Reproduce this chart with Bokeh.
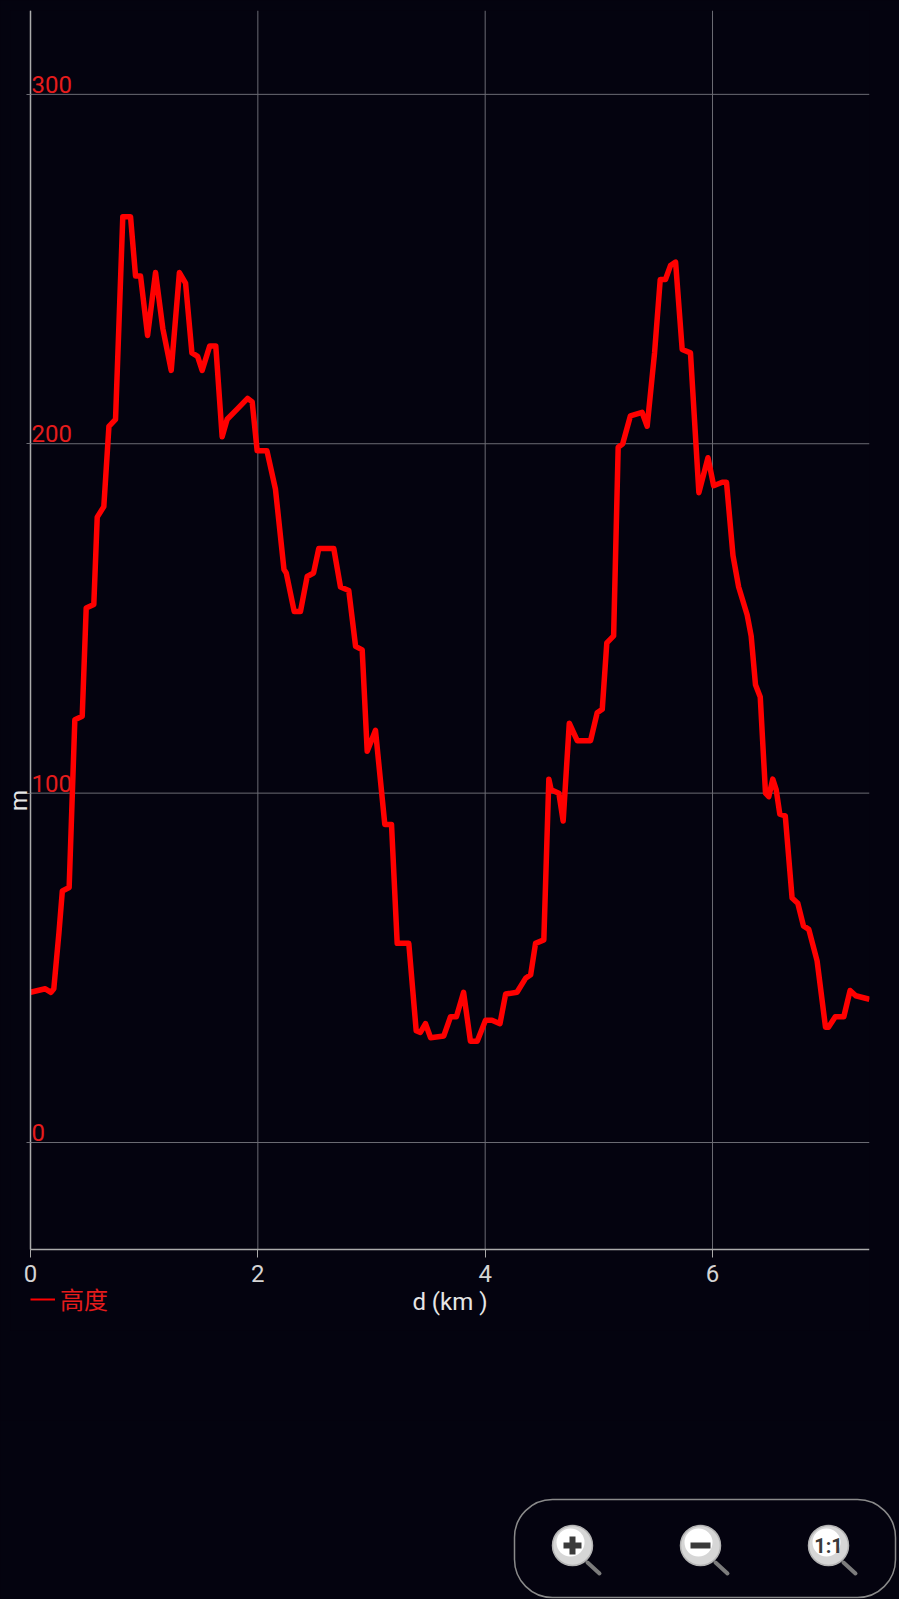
import math
from bokeh.plotting import figure
from bokeh.models import Range1d, FixedTicker, Legend, LegendItem, Label, ColumnDataSource
from bokeh.layouts import column
from bokeh.embed import file_html
from bokeh.resources import INLINE
from bokeh.core.properties import value

# ---------------- data ----------------
distance_km = [0, 0.13, 0.18, 0.205, 0.25, 0.28, 0.34, 0.39, 0.455, 0.49, 0.557, 0.587, 0.645,
               0.69, 0.748, 0.812, 0.88, 0.924, 0.968, 1.03, 1.10, 1.164, 1.238, 1.31, 1.364,
               1.42, 1.47, 1.51, 1.577, 1.63, 1.686, 1.73, 1.82, 1.91, 1.95, 1.994, 2.08,
               2.155, 2.23, 2.25, 2.32, 2.375, 2.434, 2.49, 2.536, 2.668, 2.727, 2.80, 2.86,
               2.918, 2.962, 3.035, 3.117, 3.176, 3.226, 3.328, 3.393, 3.43, 3.475, 3.52,
               3.636, 3.695, 3.747, 3.81, 3.87, 3.93, 4.003, 4.06, 4.13, 4.18, 4.28, 4.355,
               4.40, 4.443, 4.516, 4.56, 4.58, 4.648, 4.686, 4.74, 4.81, 4.927, 4.985, 5.03,
               5.07, 5.13, 5.17, 5.21, 5.278, 5.38, 5.425, 5.49, 5.54, 5.586, 5.63, 5.675,
               5.733, 5.806, 5.88, 5.96, 6.01, 6.085, 6.123, 6.18, 6.23, 6.305, 6.34, 6.378,
               6.42, 6.466, 6.495, 6.53, 6.56, 6.592, 6.64, 6.70, 6.75, 6.80, 6.847, 6.92,
               6.994, 7.02, 7.08, 7.155, 7.21, 7.26, 7.38]
elevation_m = [43, 44, 43, 44, 60, 72, 73, 121, 122, 153, 154, 179, 182,
               205, 207, 265, 265, 248, 248, 231, 249, 233, 221, 249, 246,
               226, 225, 221, 228, 228, 202, 207, 210, 213, 212, 198, 198,
               187, 164, 163, 152, 152, 162, 163, 170, 170, 159, 158, 142,
               141, 112, 118, 91, 91, 57, 57, 32, 31.5, 34, 30,
               30.5, 36, 36, 43, 29, 29, 35, 35, 34, 42.5, 43, 47,
               48, 57, 58, 104, 101, 100, 92, 120, 115, 115, 123, 124,
               143, 145, 199, 200, 208, 209, 205, 226, 247, 247, 251, 252,
               227, 226, 186, 196, 188, 189, 189, 168, 159, 151, 145, 131,
               127.5, 100, 99, 104, 101, 94, 93.5, 70, 68.5, 62, 61, 52,
               33, 33, 36, 36, 43.5, 42, 41]
x_ticks = [0, 2, 4, 6]
y_ticks = [0, 100, 200, 300]
y_tick_labels = ["0", "100", "200", "300"]
series_name = "高度"
x_title = "d (km )"
y_title = "m"
zoom_buttons = ["+", "−", "1:1"]

assert len(distance_km) == len(elevation_m)

# axis extents (the visible chart box)
X_MIN, X_MAX = 0.0, 7.381
Y_MIN, Y_MAX = -30.6, 324.0

BG = "#04030f"
GRID = "#6c6c74"
AXIS = "#ababab"
RED = "#ff0000"
LABEL_RED = "#e61c1c"
FONT = "Roboto"

# ---------------- main chart ----------------
# The frame is a bit larger than the chart box so that the axis titles and
# the legend (which sit outside the box) are drawn inside the frame.
p = figure(width=899, height=1420, output_backend="svg", toolbar_location=None,
           x_range=Range1d(-0.176, X_MAX), y_range=Range1d(-53.8, Y_MAX),
           min_border_left=10, min_border_right=30, min_border_top=10, min_border_bottom=90,
           background_fill_color=BG, border_fill_color=BG)
p.frame_align = False
p.outline_line_color = None
p.grid.visible = False

p.xaxis.ticker = FixedTicker(ticks=x_ticks)
p.yaxis.ticker = FixedTicker(ticks=y_ticks)
p.xaxis.fixed_location = Y_MIN
p.yaxis.fixed_location = X_MIN
p.xaxis.bounds = (X_MIN, X_MAX)
p.yaxis.bounds = (Y_MIN, Y_MAX)

for ax in (p.xaxis, p.yaxis):
    ax.axis_line_color = AXIS
    ax.axis_line_width = 1.5
    ax.minor_tick_line_color = None
    ax.major_tick_in = 0

p.xaxis.major_tick_out = 8
p.xaxis.major_tick_line_color = AXIS
p.xaxis.major_label_text_color = "#d4d4d4"
p.xaxis.major_label_text_font = FONT
p.xaxis.major_label_text_font_size = "24px"
p.xaxis.major_label_standoff = 8
p.xaxis.axis_label = x_title
p.xaxis.axis_label_text_color = "#e6e6e6"
p.xaxis.axis_label_text_font = FONT
p.xaxis.axis_label_text_font_size = "24px"
p.xaxis.axis_label_text_font_style = "normal"
p.xaxis.axis_label_standoff = 2

p.yaxis.major_tick_out = 4
p.yaxis.major_tick_line_color = GRID
p.yaxis.major_label_standoff = 0
p.yaxis.major_label_overrides = {t: "" for t in y_ticks}

# grid lines, limited to the chart box
p.segment(x0=[X_MIN] * len(y_ticks), y0=y_ticks, x1=[X_MAX] * len(y_ticks), y1=y_ticks,
          line_color=GRID, line_width=1)
p.segment(x0=x_ticks, y0=[Y_MIN] * len(x_ticks), x1=x_ticks, y1=[Y_MAX] * len(x_ticks),
          line_color=GRID, line_width=1)

# y tick labels drawn inside the plot area, just above each grid line
ysrc = ColumnDataSource(dict(x=[X_MIN] * len(y_ticks), y=y_ticks, t=y_tick_labels))
p.text(x="x", y="y", text="t", source=ysrc, text_color=LABEL_RED,
       text_font=value(FONT), text_font_size="24px", text_align="left",
       text_baseline="middle", x_offset=1, y_offset=-10)

# thin copy (fully hidden under the thick line) only provides the thin legend dash
legend_line = p.line(distance_km, elevation_m, line_color=RED, line_width=2)
line = p.line(distance_km, elevation_m, line_color=RED, line_width=5.5, line_join="round")

legend = Legend(items=[LegendItem(label=series_name, renderers=[legend_line])],
                location=(20, 14), orientation="horizontal", padding=0, margin=0, spacing=0,
                glyph_width=25, glyph_height=24, label_standoff=5, label_height=24,
                label_text_color=LABEL_RED, label_text_font="Noto Sans CJK SC",
                label_text_font_size="24px", background_fill_alpha=0, border_line_alpha=0)
p.add_layout(legend)

p.add_layout(Label(x=-0.103, y=97.9, text=y_title, angle=math.pi / 2,
                   text_align="center", text_baseline="middle", text_color="#e6e6e6",
                   text_font=FONT, text_font_size="24px"))

# ---------------- zoom controls strip ----------------
W2, H2 = 899, 179
c = figure(width=W2, height=H2, output_backend="svg", toolbar_location=None,
           x_range=Range1d(0, W2), y_range=Range1d(H2, 0),
           x_axis_type=None, y_axis_type=None, min_border=0,
           background_fill_color=BG, border_fill_color=BG)
c.frame_align = False
c.outline_line_color = None
c.grid.visible = False

c.quad(left=[514], right=[895], top=[79], bottom=[177], border_radius=38,
       fill_alpha=0, line_color="#8a8a8a", line_width=1.5)

bx = [572, 700, 828]
by = [125, 125, 125]
c.segment(x0=[x + 15 for x in bx], y0=[y + 17 for y in by],
          x1=[x + 27 for x in bx], y1=[y + 28 for y in by],
          line_color="#7c7c7c", line_width=4, line_cap="round")
c.circle(x=bx, y=by, radius=20, fill_color="#d6d6d6", line_color="#b4b4b4", line_width=1.5)
c.circle(x=[x - 2 for x in bx], y=[y - 3 for y in by], radius=14, fill_color="#ffffff",
         line_alpha=0)
# plus
c.segment(x0=[bx[0] - 9, bx[0]], y0=[by[0], by[0] - 9], x1=[bx[0] + 9, bx[0]], y1=[by[0], by[0] + 9],
          line_color="#3a3a3a", line_width=6)
# minus
c.segment(x0=[bx[1] - 10], y0=[by[1]], x1=[bx[1] + 10], y1=[by[1]],
          line_color="#3a3a3a", line_width=6)
c.text(x=[bx[2]], y=[by[2]], text=[zoom_buttons[2]], text_color="#3a3a3a",
       text_font=value(FONT), text_font_style="bold", text_font_size="20px",
       text_align="center", text_baseline="middle")

layout = column(p, c, spacing=0)

html = file_html(layout, INLINE)
html = html.replace("</head>", "<style>html,body{background:%s;}</style></head>" % BG, 1)
open("out.html", "w").write(html)
